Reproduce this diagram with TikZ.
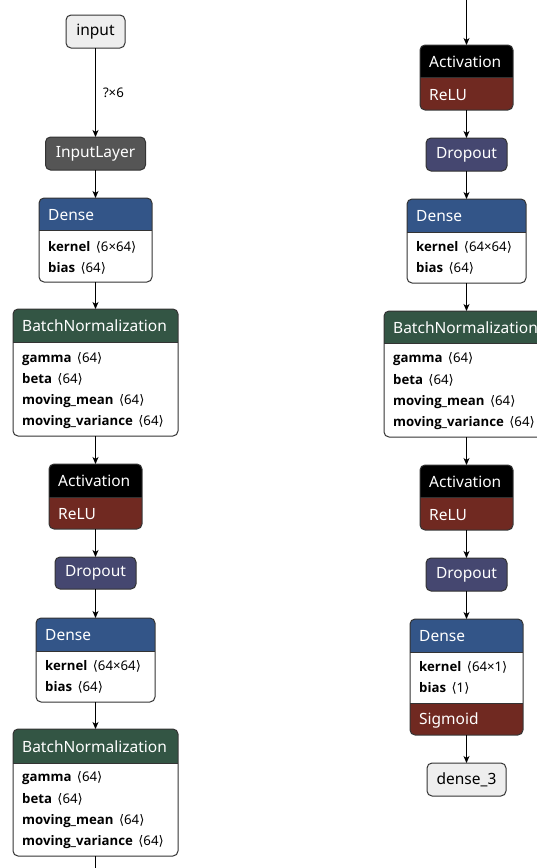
\documentclass[tikz,border=0pt]{standalone}
\usepackage{fontspec}
\setmainfont{Noto Sans}[BoldFont={Open Sans Bold}]
\newfontfamily\djv{DejaVu Sans}
\usetikzlibrary{arrows.meta}
\definecolor{bord}{HTML}{333333}
\definecolor{cdense}{HTML}{335588}
\definecolor{cnorm}{HTML}{335544}
\definecolor{cact}{HTML}{702921}
\definecolor{cdrop}{HTML}{454770}
\definecolor{cdata}{HTML}{555555}
\definecolor{cwrap}{HTML}{EEEEEE}
\newcommand{\myla}{\hspace{2pt}{\djv ⟨}}
\newcommand{\myra}{{\djv ⟩}}
\newcommand{\secfill}[4]{%
  \begin{scope}
    \clip[rounded corners=5pt] (#1.north west) rectangle (#1.south east);
    \fill[#4] ([yshift=-#2pt]#1.north west) rectangle ([yshift=-#3pt]#1.north east);
  \end{scope}}
\newcommand{\secline}[2]{\draw[bord,line width=1pt] ([yshift=-#2pt]#1.north west) -- ([yshift=-#2pt]#1.north east);}
\newcommand{\secborder}[1]{\draw[bord,line width=1pt,rounded corners=5pt] (#1.north west) rectangle (#1.south east);}
\tikzset{
  x=1pt, y=-1pt,
  blk/.style={fill=white, draw=none, inner sep=0pt, outer sep=0pt, anchor=north},
  simple/.style={draw=bord, line width=1pt, rounded corners=5pt, inner sep=0pt, outer sep=0pt,
     font=\fontsize{15.5}{18}\selectfont},
  hd/.style={text=white, font=\fontsize{15.5}{18}\selectfont, anchor=base west, inner sep=0pt},
  bd/.style={font=\fontsize{13.2}{15}\selectfont, anchor=base west, inner sep=0pt},
  conn/.style={draw=black, line width=1pt, -{Stealth[length=7pt,width=6pt,inset=2pt]}},
}
\begin{document}
\begin{tikzpicture}
\useasboundingbox (0,0) rectangle (537,868);
% ---------------- left column ----------------
\node[simple, fill=cwrap, text=black, minimum width=59pt, minimum height=33pt] (in) at (95.5,31.5) {input};
\node[simple, fill=cdata, text=white, minimum width=100pt, minimum height=33pt] (il) at (95.5,153.5) {InputLayer};
% Dense 1
\node[blk, minimum width=113pt, minimum height=84pt] (d1) at (95.5,198) {};
\secfill{d1}{0}{32}{cdense}\secline{d1}{32}\secborder{d1}
\node[hd] (d1t) at ([xshift=9pt,yshift=-22pt]d1.north west) {Dense};
\node[bd] (d1k) at ([xshift=9pt,yshift=-53.5pt]d1.north west) {\textbf{kernel} \myla6×64\myra};
\node[bd] (d1b) at ([xshift=9pt,yshift=-74.5pt]d1.north west) {\textbf{bias} \myla64\myra};
% BN 1
\node[blk, minimum width=165pt, minimum height=127pt] (bn1) at (95.5,309) {};
\secfill{bn1}{0}{33}{cnorm}\secline{bn1}{33}\secborder{bn1}
\node[hd] (bn1t) at ([xshift=9pt,yshift=-22.5pt]bn1.north west) {BatchNormalization};
\node[bd] (bn1g) at ([xshift=9pt,yshift=-53.5pt]bn1.north west) {\textbf{gamma} \myla64\myra};
\node[bd] (bn1b) at ([xshift=9pt,yshift=-74.5pt]bn1.north west) {\textbf{beta} \myla64\myra};
\node[bd] (bn1m) at ([xshift=9pt,yshift=-95.5pt]bn1.north west) {\textbf{moving\_mean} \myla64\myra};
\node[bd] (bn1v) at ([xshift=9pt,yshift=-116.5pt]bn1.north west) {\textbf{moving\_variance} \myla64\myra};
% Activation 1
\node[blk, minimum width=93pt, minimum height=65pt] (a1) at (95.5,464) {};
\secfill{a1}{0}{33}{black}\secfill{a1}{33}{65}{cact}\secline{a1}{33}\secborder{a1}
\node[hd] (a1t) at ([xshift=9pt,yshift=-22.5pt]a1.north west) {Activation};
\node[hd] (a1r) at ([xshift=9pt,yshift=-55.5pt]a1.north west) {ReLU};
% Dropout 1
\node[simple, fill=cdrop, text=white, minimum width=81pt, minimum height=32pt] (do1) at (95.5,573) {Dropout};
% Dense 2
\node[blk, minimum width=119pt, minimum height=84pt] (d2) at (95.5,618) {};
\secfill{d2}{0}{33}{cdense}\secline{d2}{33}\secborder{d2}
\node[hd] (d2t) at ([xshift=9pt,yshift=-22.5pt]d2.north west) {Dense};
\node[bd] (d2k) at ([xshift=9pt,yshift=-52.5pt]d2.north west) {\textbf{kernel} \myla64×64\myra};
\node[bd] (d2b) at ([xshift=9pt,yshift=-73.5pt]d2.north west) {\textbf{bias} \myla64\myra};
% BN 2
\node[blk, minimum width=165pt, minimum height=127pt] (bn2) at (95.5,729) {};
\secfill{bn2}{0}{34}{cnorm}\secline{bn2}{34}\secborder{bn2}
\node[hd] (bn2t) at ([xshift=9pt,yshift=-23pt]bn2.north west) {BatchNormalization};
\node[bd] (bn2g) at ([xshift=9pt,yshift=-52.5pt]bn2.north west) {\textbf{gamma} \myla64\myra};
\node[bd] (bn2b) at ([xshift=9pt,yshift=-74.5pt]bn2.north west) {\textbf{beta} \myla64\myra};
\node[bd] (bn2m) at ([xshift=9pt,yshift=-95.5pt]bn2.north west) {\textbf{moving\_mean} \myla64\myra};
\node[bd] (bn2v) at ([xshift=9pt,yshift=-116.5pt]bn2.north west) {\textbf{moving\_variance} \myla64\myra};
\coordinate (lend) at (95.5,868);
% ---------------- right column ----------------
\coordinate (rtop) at (466.5,0);
\node[blk, minimum width=93pt, minimum height=65pt] (a2) at (466.5,45) {};
\secfill{a2}{0}{32}{black}\secfill{a2}{32}{65}{cact}\secline{a2}{32}\secborder{a2}
\node[hd] (a2t) at ([xshift=9pt,yshift=-22pt]a2.north west) {Activation};
\node[hd] (a2r) at ([xshift=9pt,yshift=-55pt]a2.north west) {ReLU};
\node[simple, fill=cdrop, text=white, minimum width=81pt, minimum height=33pt] (do2) at (466.5,154.5) {Dropout};
\node[blk, minimum width=119pt, minimum height=84pt] (d3) at (466.5,199) {};
\secfill{d3}{0}{33}{cdense}\secline{d3}{33}\secborder{d3}
\node[hd] (d3t) at ([xshift=9pt,yshift=-22.5pt]d3.north west) {Dense};
\node[bd] (d3k) at ([xshift=9pt,yshift=-52.5pt]d3.north west) {\textbf{kernel} \myla64×64\myra};
\node[bd] (d3b) at ([xshift=9pt,yshift=-73.5pt]d3.north west) {\textbf{bias} \myla64\myra};
\node[blk, minimum width=165pt, minimum height=126pt] (bn3) at (466.5,311) {};
\secfill{bn3}{0}{32}{cnorm}\secline{bn3}{32}\secborder{bn3}
\node[hd] (bn3t) at ([xshift=9pt,yshift=-22pt]bn3.north west) {BatchNormalization};
\node[bd] (bn3g) at ([xshift=9pt,yshift=-51.5pt]bn3.north west) {\textbf{gamma} \myla64\myra};
\node[bd] (bn3b) at ([xshift=9pt,yshift=-73.5pt]bn3.north west) {\textbf{beta} \myla64\myra};
\node[bd] (bn3m) at ([xshift=9pt,yshift=-94.5pt]bn3.north west) {\textbf{moving\_mean} \myla64\myra};
\node[bd] (bn3v) at ([xshift=9pt,yshift=-115.5pt]bn3.north west) {\textbf{moving\_variance} \myla64\myra};
\node[blk, minimum width=93pt, minimum height=65pt] (a3) at (466.5,465) {};
\secfill{a3}{0}{32}{black}\secfill{a3}{32}{65}{cact}\secline{a3}{32}\secborder{a3}
\node[hd] (a3t) at ([xshift=9pt,yshift=-22pt]a3.north west) {Activation};
\node[hd] (a3r) at ([xshift=9pt,yshift=-55pt]a3.north west) {ReLU};
\node[simple, fill=cdrop, text=white, minimum width=81pt, minimum height=33pt] (do3) at (466.5,574.5) {Dropout};
\node[blk, minimum width=113pt, minimum height=116pt] (d4) at (466.5,619) {};
\secfill{d4}{0}{33}{cdense}\secfill{d4}{84}{116}{cact}\secline{d4}{33}\secline{d4}{84}\secborder{d4}
\node[hd] (d4t) at ([xshift=9pt,yshift=-22.5pt]d4.north west) {Dense};
\node[bd] (d4k) at ([xshift=9pt,yshift=-52.5pt]d4.north west) {\textbf{kernel} \myla64×1\myra};
\node[bd] (d4b) at ([xshift=9pt,yshift=-73.5pt]d4.north west) {\textbf{bias} \myla1\myra};
\node[hd] (d4s) at ([xshift=9pt,yshift=-105.5pt]d4.north west) {Sigmoid};
\node[simple, fill=cwrap, text=black, minimum width=79pt, minimum height=33pt] (out) at (466.5,779.5) {dense\_3};
% ---------------- connectors ----------------
\draw[conn] (in) -- node[bd, anchor=west, xshift=7pt] (lbl) {?×6} (il);
\draw[conn] (il) -- (d1);
\draw[conn] (d1) -- (bn1);
\draw[conn] (bn1) -- (a1);
\draw[conn] (a1) -- (do1);
\draw[conn] (do1) -- (d2);
\draw[conn] (d2) -- (bn2);
\draw[line width=1pt] (bn2) -- (lend);
\draw[conn] (rtop) -- (a2);
\draw[conn] (a2) -- (do2);
\draw[conn] (do2) -- (d3);
\draw[conn] (d3) -- (bn3);
\draw[conn] (bn3) -- (a3);
\draw[conn] (a3) -- (do3);
\draw[conn] (do3) -- (d4);
\draw[conn] (d4) -- (out);
\end{tikzpicture}
\end{document}
